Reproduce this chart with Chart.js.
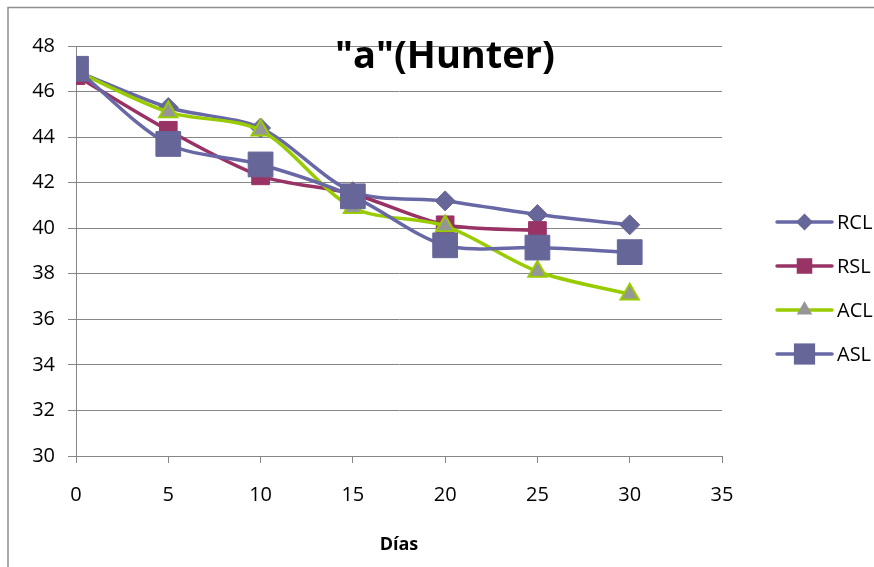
<!DOCTYPE html>
<html>
<head>
<meta charset="utf-8">
<title>"a"(Hunter)</title>
<script src="https://cdn.jsdelivr.net/npm/chart.js@4/dist/chart.umd.min.js"></script>
<style>
  html, body { margin: 0; padding: 0; background: #ffffff; }
  #wrap { width: 874px; height: 567px; position: relative; }
</style>
</head>
<body>
<div id="wrap"><canvas id="c" width="874" height="567"></canvas></div>
<script>
// Días de almacenamiento y valores del parámetro "a" (Hunter)
const days = [0, 5, 10, 15, 20, 25, 30];
const seriesNames = ['RCL', 'RSL', 'ACL', 'ASL'];
const rcl = [46.9, 45.3, 44.4, 41.6, 41.2, 40.6, 40.15];
const rsl = [46.7, 44.3, 42.3, 41.5, 40.15, 39.9];
const acl = [46.9, 45.1, 44.3, 40.9, 40.1, 38.1, 37.1];
const asl = [47.0, 43.7, 42.8, 41.4, 39.25, 39.15, 38.95];
const titleText = '"a"(Hunter)';
const xTitle = 'Días';

const FONT = "'Open Sans', 'DejaVu Sans', sans-serif";

function pts(values) {
  return values.map((v, i) => ({ x: days[i], y: v }));
}

// Frame along the top and left edges of the chart block
const framePlugin = {
  id: 'frame',
  beforeDraw(chart) {
    const ctx = chart.ctx;
    ctx.save();
    ctx.strokeStyle = '#8f8f8f';
    ctx.lineWidth = 1.5;
    ctx.beginPath();
    ctx.moveTo(8, 567);
    ctx.lineTo(8, 7.5);
    ctx.lineTo(874, 7.5);
    ctx.stroke();
    ctx.restore();
  }
};

// Title drawn over the plot, without taking layout space
const overlayTitle = {
  id: 'overlayTitle',
  afterDraw(chart) {
    const ctx = chart.ctx;
    ctx.save();
    ctx.font = "bold 38px " + FONT;
    ctx.fillStyle = '#000000';
    ctx.textAlign = 'center';
    ctx.textBaseline = 'alphabetic';
    ctx.fillText(titleText, 445, 68);
    ctx.restore();
  }
};

// Legend on the right: line sample with the series marker, then the name
const sideLegend = {
  id: 'sideLegend',
  afterDraw(chart) {
    const ctx = chart.ctx;
    const x0 = 777, x1 = 832, tx = 837;
    const top = 222, step = 44;
    chart.data.datasets.forEach((ds, i) => {
      const y = top + i * step;
      ctx.save();
      ctx.strokeStyle = ds.borderColor;
      ctx.lineWidth = ds.borderWidth;
      ctx.lineCap = 'round';
      ctx.beginPath();
      ctx.moveTo(x0, y);
      ctx.lineTo(x1, y);
      ctx.stroke();
      ctx.fillStyle = ds.pointBackgroundColor;
      ctx.strokeStyle = ds.pointBorderColor;
      ctx.lineWidth = ds.pointBorderWidth;
      Chart.helpers.drawPoint(ctx, {
        pointStyle: ds.pointStyle,
        radius: ds.legendRadius,
        rotation: 0
      }, (x0 + x1) / 2, y);
      ctx.fillStyle = '#000000';
      ctx.font = "20px " + FONT;
      ctx.textAlign = 'left';
      ctx.textBaseline = 'middle';
      ctx.fillText(ds.label, tx, y + 1);
      ctx.restore();
    });
  }
};

new Chart(document.getElementById('c'), {
  type: 'line',
  data: {
    datasets: [
      {
        label: seriesNames[0], data: pts(rcl), order: 4,
        borderColor: '#6868a6', borderWidth: 3.5,
        pointStyle: 'rectRot', pointRadius: 10, legendRadius: 8.5,
        pointBackgroundColor: '#666699', pointBorderColor: '#666699', pointBorderWidth: 1
      },
      {
        label: seriesNames[1], data: pts(rsl), order: 3,
        borderColor: '#993366', borderWidth: 3.5,
        pointStyle: 'rect', pointRadius: 12.5, legendRadius: 11,
        pointBackgroundColor: '#993366', pointBorderColor: '#993366', pointBorderWidth: 1
      },
      {
        label: seriesNames[2], data: pts(acl), order: 2,
        borderColor: '#99cc00', borderWidth: 3.5,
        pointStyle: 'triangle', pointRadius: 10.5, legendRadius: 9,
        pointBackgroundColor: '#969696', pointBorderColor: '#99cc00', pointBorderWidth: 2
      },
      {
        label: seriesNames[3], data: pts(asl), order: 1,
        borderColor: '#6868a6', borderWidth: 3.5,
        pointStyle: 'rect', pointRadius: 17.5, legendRadius: 15,
        pointBackgroundColor: '#666699', pointBorderColor: '#666699', pointBorderWidth: 1
      }
    ]
  },
  options: {
    responsive: false,
    animation: false,
    events: [],
    elements: { line: { tension: 0.3, fill: false } },
    layout: { padding: { top: 46, right: 152, bottom: 0, left: 0 } },
    plugins: {
      legend: { display: false },
      title: { display: false },
      tooltip: { enabled: false }
    },
    scales: {
      x: {
        type: 'linear',
        min: 0, max: 35,
        ticks: { stepSize: 5, color: '#000000', padding: 20, font: { family: FONT, size: 20 } },
        grid: { drawOnChartArea: false, drawTicks: true, tickLength: 7, color: '#868686', lineWidth: 1 },
        border: { display: true, color: '#868686', width: 1 },
        title: {
          display: true, text: xTitle, color: '#000000',
          font: { family: FONT, size: 18, weight: 'bold' },
          padding: { top: 0, bottom: 11 }
        },
        afterFit(scale) { scale.height = 111; }
      },
      y: {
        min: 30, max: 48,
        ticks: { stepSize: 2, color: '#000000', padding: 13, font: { family: FONT, size: 20 } },
        grid: { drawOnChartArea: true, drawTicks: true, tickLength: 8, color: '#868686', lineWidth: 1 },
        border: { display: true, color: '#868686', width: 1 },
        afterFit(scale) { scale.width = 76; }
      }
    }
  },
  plugins: [framePlugin, overlayTitle, sideLegend]
});
</script>
</body>
</html>
